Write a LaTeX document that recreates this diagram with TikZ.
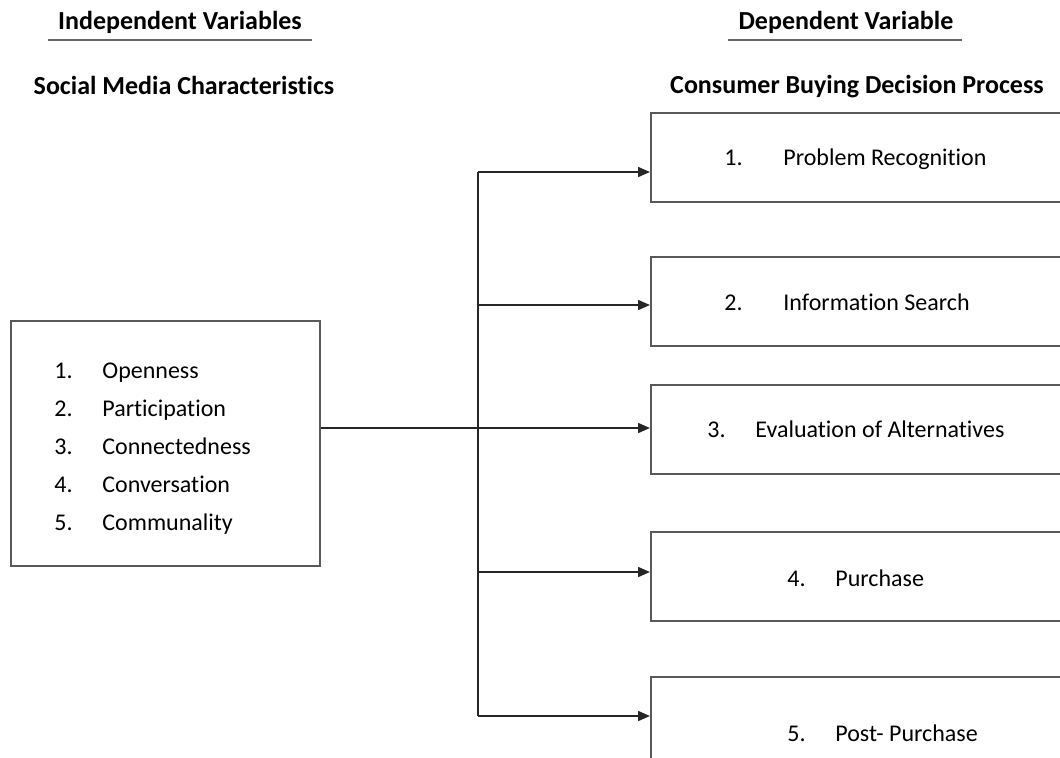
\documentclass[tikz,border=0pt]{standalone}
\usepackage{fontspec}
\setmainfont{Carlito}[Ligatures=NoCommon]
\usetikzlibrary{positioning,arrows.meta}

\begin{document}
\begin{tikzpicture}[x=0.5pt,y=-0.5pt,>={Triangle[length=6pt,width=5pt]},
  every node/.style={font=\fontsize{12}{14}\selectfont},
  head/.style={font=\fontsize{13}{15}\selectfont\bfseries,inner sep=0pt},
  frame/.style={draw=black!65,line width=1pt,inner sep=0pt},
  link/.style={draw=black!85,line width=0.8pt},
  item/.style={inner sep=0pt,anchor=base west}]
\useasboundingbox (0,0) rectangle (1060,757);
\clip (0,0) rectangle (1060,757);

% headings
\node[head] (ivhead) at (180,22) {Independent Variables};
\node[head] (dvhead) at (846,22) {Dependent Variable};
\draw[black!60,line width=0.8pt] (48,40) -- (312,40);
\draw[black!60,line width=0.8pt] (728,40) -- (962,40);
\node[head] (ivname) at (184,85) {Social Media Characteristics};
\node[head] (dvname) at (857,87) {Consumer Buying Decision Process};

% independent variable box
\node[frame,anchor=north west,minimum width=154.5pt,minimum height=122.5pt] (iv) at (10,320) {};
\foreach \t [count=\i] in {Openness,Participation,Connectedness,Conversation,Communality}{
  \node[item] (num\i) at (54,340+38*\i) {\i.};
  \node[item] (txt\i) at (102,340+38*\i) {\t};
}

% dependent variable boxes
\node[frame,anchor=north west,minimum width=220pt,minimum height=44.5pt] (dv1) at (650,112) {};
\node[frame,anchor=north west,minimum width=220pt,minimum height=44.5pt] (dv2) at (650,256) {};
\node[frame,anchor=north west,minimum width=220pt,minimum height=44.5pt] (dv3) at (650,384) {};
\node[frame,anchor=north west,minimum width=220pt,minimum height=44.5pt] (dv4) at (650,531) {};
\node[frame,anchor=north west,minimum width=220pt,minimum height=44.5pt] (dv5) at (650,676) {};

\node[item] (n1) at (724,165) {1.};
\node[item] (s1) at (783,165) {Problem Recognition};
\node[item] (n2) at (724,310) {2.};
\node[item] (s2) at (783,310) {Information Search};
\node[item] (n3) at (707,437) {3.};
\node[item] (s3) at (755,437) {Evaluation of Alternatives};
\node[item] (n4) at (787,586) {4.};
\node[item] (s4) at (835,586) {Purchase};
\node[item] (n5) at (787,741) {5.};
\node[item] (s5) at (835,741) {Post- Purchase};

% links
\coordinate (b1) at (478,172);
\coordinate (b2) at (478,305);
\coordinate (b3) at (478,428);
\coordinate (b4) at (478,572);
\coordinate (b5) at (478,716);
\draw[link] (b3 -| iv.east) -- (b3);
\draw[link] (b1) -- (b5);
\foreach \i in {1,...,5}
  \draw[link,->] (b\i) -- (b\i -| dv\i.west);
\end{tikzpicture}
\end{document}
